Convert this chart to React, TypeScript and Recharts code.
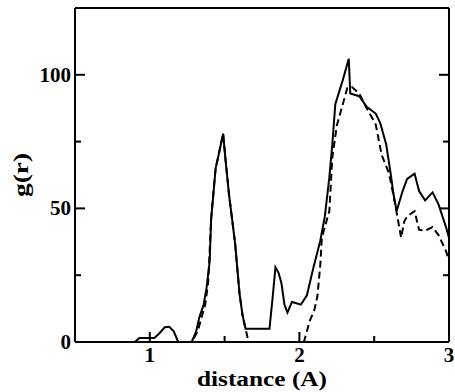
import { LineChart, Line, XAxis, YAxis, Label } from 'recharts'

// solid curve g(r)
const solidX = [0.5, 0.9, 0.93, 1.03, 1.06, 1.1, 1.13, 1.16, 1.19, 1.28, 1.31, 1.33, 1.36, 1.38, 1.4, 1.41, 1.44, 1.46, 1.49, 1.51, 1.53, 1.57, 1.6, 1.62, 1.64, 1.8, 1.82, 1.84, 1.86, 1.88, 1.9, 1.92, 1.95, 1.98, 2.01, 2.05, 2.09, 2.14, 2.17, 2.2, 2.22, 2.24, 2.29, 2.33, 2.34, 2.4, 2.45, 2.51, 2.54, 2.58, 2.61, 2.63, 2.65, 2.69, 2.72, 2.77, 2.8, 2.84, 2.89, 2.93, 2.98, 3.0]
const solidY = [0, 0, 1.5, 1.5, 3, 5.5, 5.7, 4, 0, 0, 4, 9, 14, 20.5, 30, 46, 65, 70, 78, 66, 55, 37, 18, 10, 5, 5, 16, 28, 26, 22, 14, 11, 15, 14.5, 14, 17.5, 27, 38, 47, 61.5, 74, 89, 98, 106, 93, 92, 88, 85.5, 82, 74, 63, 55, 49, 56.5, 61, 63, 56.5, 53, 56, 51.5, 43, 39]

// dashed curve g(r)
const dashedX = [0.5, 1.28, 1.32, 1.35, 1.37, 1.39, 1.41, 1.44, 1.46, 1.49, 1.51, 1.53, 1.57, 1.6, 1.62, 1.64, 1.66, 2.03, 2.05, 2.07, 2.1, 2.12, 2.14, 2.15, 2.2, 2.22, 2.25, 2.29, 2.32, 2.35, 2.4, 2.45, 2.51, 2.55, 2.6, 2.64, 2.68, 2.7, 2.72, 2.77, 2.8, 2.84, 2.89, 2.93, 2.98, 3.0]
const dashedY = [0, 0, 4, 10, 14, 22, 46, 65, 70, 78, 66, 55, 37, 18, 10, 5, 0, 0, 4, 8, 12, 17, 29, 39, 49, 69, 81, 89, 95, 95.5, 93, 87.5, 81.5, 70, 63, 51.7, 39, 45, 47, 49, 42, 41.6, 43, 40, 34, 30.5]

const xTicks = [1, 1.5, 2, 2.5, 3]
const yTicks = [0, 25, 50, 75, 100]

const solidData = solidX.map((x, i) => ({ x, g: solidY[i] }))
const dashedData = dashedX.map((x, i) => ({ x, g: dashedY[i] }))

const FONT = "'Liberation Serif', 'Times New Roman', serif"
const textStyle = { fontFamily: FONT, fontWeight: 700 }

function BottomTick({ x, y, payload }: any) {
  const major = Number.isInteger(payload.value)
  return (
    <g>
      <path d={`M${x},${y}V${y - (major ? 10 : 6)}`} style={{ stroke: '#000', strokeWidth: 2 }} />
      {major && (
        <text x={x} y={y + 20} textAnchor="middle" style={textStyle} fontSize={21} fill="#000">
          {payload.value}
        </text>
      )}
    </g>
  )
}

function TopTick({ x, y, payload }: any) {
  const major = Number.isInteger(payload.value)
  return <path d={`M${x},${y}V${y + (major ? 10 : 6)}`} style={{ stroke: '#000', strokeWidth: 2 }} />
}

function LeftTick({ x, y, payload }: any) {
  const major = payload.value % 50 === 0
  return (
    <g>
      <path d={`M${x},${y}H${x + (major ? 10 : 6)}`} style={{ stroke: '#000', strokeWidth: 2 }} />
      {major && (
        <text x={x - 4} y={y + 7} textAnchor="end" style={textStyle} fontSize={21} fill="#000">
          {payload.value}
        </text>
      )}
    </g>
  )
}

function RightTick({ x, y, payload }: any) {
  const major = payload.value % 50 === 0
  return <path d={`M${x},${y}H${x - (major ? 10 : 6)}`} style={{ stroke: '#000', strokeWidth: 2 }} />
}

const xTitle = ({ viewBox }: any) => (
  <text
    x={viewBox.x + viewBox.width / 2}
    y={viewBox.y + 44}
    textAnchor="middle"
    style={textStyle}
    fontSize={20}
    textLength={130}
    lengthAdjust="spacingAndGlyphs"
    fill="#000"
  >
    distance (A)
  </text>
)

const yTitle = ({ viewBox }: any) => {
  const cx = 20
  const cy = viewBox.y + viewBox.height / 2
  return (
    <text
      x={cx}
      y={cy}
      transform={`rotate(-90 ${cx} ${cy})`}
      textAnchor="middle"
      dominantBaseline="central"
      style={textStyle}
      fontSize={22}
      textLength={44}
      lengthAdjust="spacingAndGlyphs"
      fill="#000"
    >
      g(r)
    </text>
  )
}

export default function App() {
  return (
    <div style={{ position: 'absolute', left: 0, top: 0, background: '#fff' }}>
      <LineChart width={455} height={392} margin={{ top: 7, right: 5, bottom: 0, left: 0 }}>
        <XAxis
          dataKey="x"
          type="number"
          domain={[0.5, 3]}
          ticks={xTicks}
          allowDataOverflow
          height={50}
          tickSize={0}
          tickMargin={0}
          tickLine={false}
          stroke="#000"
          strokeWidth={2}
          tick={<BottomTick />}
          interval={0}
        >
          <Label content={xTitle} />
        </XAxis>
        <XAxis
          xAxisId="top"
          orientation="top"
          type="number"
          domain={[0.5, 3]}
          ticks={xTicks}
          allowDataOverflow
          height={1}
          tickSize={0}
          tickMargin={0}
          tickLine={false}
          stroke="#000"
          strokeWidth={2}
          tick={<TopTick />}
          interval={0}
        />
        <YAxis
          type="number"
          domain={[0, 125]}
          ticks={yTicks}
          allowDataOverflow
          width={75}
          tickSize={0}
          tickMargin={0}
          tickLine={false}
          stroke="#000"
          strokeWidth={2}
          tick={<LeftTick />}
          interval={0}
        >
          <Label content={yTitle} />
        </YAxis>
        <YAxis
          yAxisId="right"
          orientation="right"
          type="number"
          domain={[0, 125]}
          ticks={yTicks}
          allowDataOverflow
          width={1}
          tickSize={0}
          tickMargin={0}
          tickLine={false}
          stroke="#000"
          strokeWidth={2}
          tick={<RightTick />}
          interval={0}
        />
        <Line
          data={dashedData}
          dataKey="g"
          type="linear"
          stroke="#000"
          strokeWidth={2}
          strokeDasharray="7 4"
          dot={false}
          isAnimationActive={false}
        />
        <Line
          data={solidData}
          dataKey="g"
          type="linear"
          stroke="#000"
          strokeWidth={2}
          dot={false}
          isAnimationActive={false}
        />
      </LineChart>
    </div>
  )
}
